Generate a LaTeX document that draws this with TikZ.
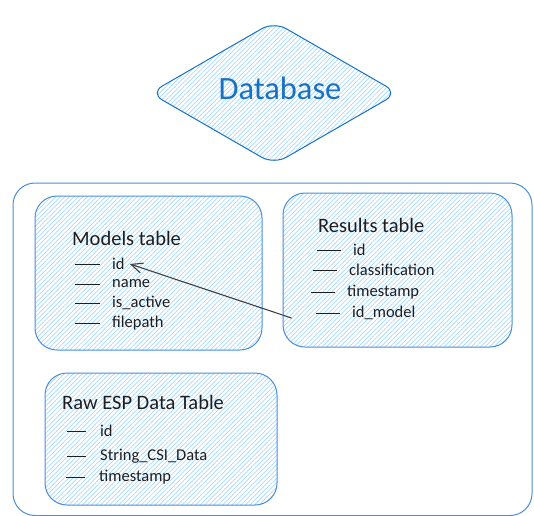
\documentclass[tikz,border=0pt]{standalone}
\usepackage{fontspec}
\setmainfont{Carlito}
\usetikzlibrary{arrows.meta,positioning,shapes.geometric,patterns.meta}
\definecolor{edgeblue}{HTML}{4A8FD6}
\definecolor{dbblue}{HTML}{1971C2}
\definecolor{hatchblue}{HTML}{A5D8FF}
\definecolor{ink}{HTML}{1E1E1E}
\tikzset{
  >={Straight Barb[length=4mm,width=3.6mm]},
  hatch/.style={pattern={Lines[angle=45,distance=3.2pt,line width=0.7pt]}, pattern color=hatchblue},
  tbl/.style={draw=edgeblue, line width=1pt, rounded corners=22pt, hatch, inner sep=0pt},
  title/.style={anchor=west, inner sep=0pt, font=\fontsize{20.5}{23}\selectfont, text=ink},
  row/.style={anchor=west, inner sep=0pt, font=\fontsize{16.5}{19}\selectfont, text=ink},
  dashline/.style={draw=ink, line width=0.8pt},
}
\begin{document}
\begin{tikzpicture}[x=1pt,y=-1pt]
  \useasboundingbox (0,0) rectangle (534,515);

  % outer frame
  \draw[edgeblue, line width=1pt, rounded corners=22pt] (13,183) rectangle (532,515.5);

  % database diamond
  \node[diamond, draw=dbblue, line width=1pt, rounded corners=14pt, hatch,
        minimum width=248pt, minimum height=143pt, inner sep=0pt] (db) at (274,93) {};
  \node[text=dbblue, font=\fontsize{32.5}{36}\selectfont] (dbtext) at (280,88) {Database};

  % tables
  \node[tbl, minimum width=227pt, minimum height=154pt] (models) at (148.5,273) {};
  \node[tbl, minimum width=229pt, minimum height=154pt] (results) at (397.5,270) {};
  \node[tbl, minimum width=232pt, minimum height=132pt] (raw) at (161,439) {};

  % models table
  \node[title] (mtitle) at (72,238) {Models table};
  \node[row] (mid) at (112,264) {id};
  \node[row] (mname) at (112,284) {name};
  \node[row] (mactive) at (112,303) {is\_active};
  \node[row] (mpath) at (112,323) {filepath};

  % results table
  \node[title] (rtitle) at (318,225) {Results table};
  \node[row] (rid) at (353,250) {id};
  \node[row] (rclass) at (349,270) {classification};
  \node[row] (rtime) at (347,292) {timestamp};
  \node[row] (rmodel) at (352,313) {id\_model};

  % raw data table
  \node[title] (wtitle) at (62,402) {Raw ESP Data Table};
  \node[row] (wid) at (100,431) {id};
  \node[row] (wcsi) at (100,456) {String\_CSI\_Data};
  \node[row] (wtime) at (99,477) {timestamp};

  \foreach \r in {mid,mname,mactive,mpath}
    \draw[dashline] ([xshift=-37pt]\r.west) -- ++(25,0);
  \foreach \r in {rid,rclass,rtime,rmodel}
    \draw[dashline] ([xshift=-36pt]\r.west) -- ++(24,0);
  \foreach \r in {wid,wcsi,wtime}
    \draw[dashline] ([xshift=-33pt]\r.west) -- ++(19,0);

  % foreign key
  \draw[->, ink!85, line width=1.1pt] ([xshift=9pt,yshift=-5pt]results.west |- rmodel) -- ([xshift=5pt]mid.east);
\end{tikzpicture}
\end{document}
